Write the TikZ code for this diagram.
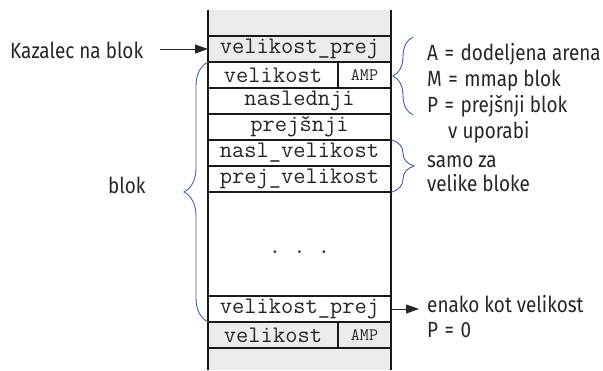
\documentclass[tikz,border=0pt]{standalone}
\usepackage{fontspec}
\setmainfont{Fira Sans}[FakeStretch=0.86]
\usetikzlibrary{decorations.pathreplacing,arrows.meta,calc}
\definecolor{cellgray}{HTML}{EBECEB}
\definecolor{braceblue}{HTML}{3F62A8}
\newcommand{\eqsp}{\hspace{6.5pt}=\hspace{6.5pt}}
\tikzset{
  cell/.style={draw=black!90, line width=1.3pt, inner sep=0pt, outer sep=0pt,
    anchor=north west, minimum height=26pt, text=black!85, font=\fontsize{23.8}{23.8}\selectfont\ttfamily},
  full/.style={cell, minimum width=183pt},
  sizecell/.style={cell, minimum width=130pt},
  ampcell/.style={cell, minimum width=53pt, font=\fontsize{17.5}{17.5}\selectfont\ttfamily},
  label/.style={anchor=base west, inner sep=0pt, text=black!85, font=\fontsize{22}{22}\selectfont},
  bluebrace/.style={draw=braceblue, line width=0.9pt, decorate},
  arr/.style={line width=1pt, black!85, -{Triangle[length=13pt,width=9pt]}},
  colline/.style={line width=1.8pt, black!90}
}
\begin{document}
\begin{tikzpicture}[x=1pt,y=-1pt]
\useasboundingbox (0,0) rectangle (603,370);
% gray areas
\fill[cellgray] (208,10) rectangle (391,36);
\fill[cellgray] (208,348) rectangle (391,370);
% cells
\node[full, fill=cellgray] (r1) at (208,36) {velikost\_prej};
\node[sizecell] (r2) at (208,62) {velikost};
\node[ampcell] (r2a) at (338,62) {AMP};
\node[full] (r3) at (208,88) {naslednji};
\node[full] (r4) at (208,114) {prejšnji};
\node[full] (r5) at (208,140) {nasl\_velikost};
\node[full] (r6) at (208,166) {prej\_velikost};
\node[full, minimum height=104pt] (r7) at (208,192) {};
\node[anchor=base, inner sep=0pt, text=black!85, font=\fontsize{23.8}{23.8}\selectfont\ttfamily] (dots) at ($(r7.center)+(0,9)$) {.~.~.};
\node[full] (r8) at (208,296) {velikost\_prej};
\node[sizecell, fill=cellgray] (r9) at (208,322) {velikost};
\node[ampcell, fill=cellgray] (r9a) at (338,322) {AMP};
% column sides
\draw[colline] (208,10) -- (208,370);
\draw[colline] (391,10) -- (391,370);
% left labels
\node[label] (kaz) at (10,58) {Kazalec na blok};
\coordinate (kazstart) at (160,49);
\draw[arr] (kazstart) -- (r1.west);
\node[label] (blok) at (108,193) {blok};
\draw[bluebrace, decoration={brace, amplitude=24pt, aspect=0.5}] (r8.south west) -- (r2.north west);
% right brace 1
\coordinate (b1bot) at (413,115);
\coordinate (b1top) at (413,37);
\draw[bluebrace, decoration={brace, amplitude=20pt}] (b1bot) -- (b1top);
\node[label] (la) at (427,60) {A\eqsp dodeljena arena};
\node[label] (lm) at (427,86) {M\eqsp mmap blok};
\node[label] (lp) at (427,112) {P\eqsp prejšnji blok};
\node[label] (lv) at (448,138) {v uporabi};
% right brace 2
\draw[bluebrace, decoration={brace, amplitude=22pt}] ($(r5.north east)+(1,0)$) -- ($(r6.south east)+(1,0)$);
\node[label] (ls) at (427,167) {samo za};
\node[label] (lb) at (427,191) {velike bloke};
% bottom arrow
\coordinate (enend) at (419,309);
\draw[arr] (r8.east) -- (enend);
\node[label] (le) at (427,312) {enako kot velikost};
\node[label] (lp0) at (427,337) {P\eqsp 0};
\end{tikzpicture}
\end{document}
